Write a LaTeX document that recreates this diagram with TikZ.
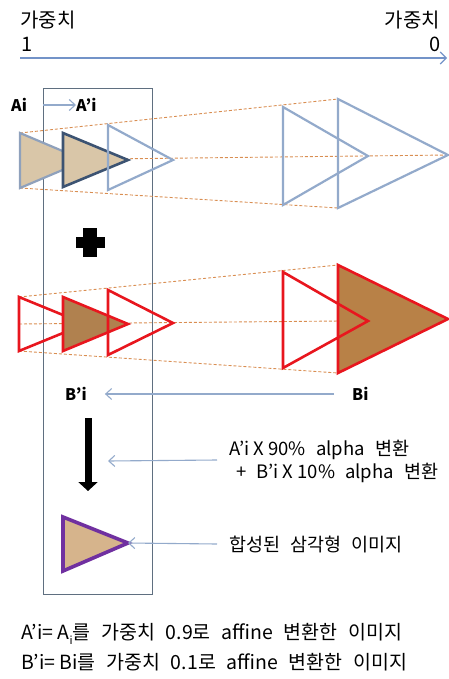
\documentclass[tikz,border=0pt]{standalone}
\usepackage{fontspec}
\setmainfont{Noto Sans CJK KR}
\usetikzlibrary{arrows.meta}
\definecolor{axisblue}{HTML}{7393C8}
\definecolor{lblue}{HTML}{93AACB}
\definecolor{dblue}{HTML}{3C5372}
\definecolor{tred}{HTML}{E8161E}
\definecolor{tpurple}{HTML}{7030A0}
\definecolor{dashor}{HTML}{D98E52}
\definecolor{framec}{HTML}{5F6F80}
\definecolor{woodA}{HTML}{D9C6A8}
\definecolor{woodB}{HTML}{B0814F}
\definecolor{woodC}{HTML}{D6B48C}
\newcommand{\wsp}{\hspace{0.55em}}
\tikzset{
  every node/.style={inner sep=0pt, font=\fontsize{18.5}{21}\selectfont},
  toptxt/.style={font=\fontsize{20}{23}\selectfont},
  lbl/.style={font=\fontsize{16}{19}\selectfont\bfseries},
  guide/.style={dashor, line width=0.9pt, dash pattern=on 3pt off 2pt},
  pointer/.style={lblue, line width=1.1pt, -{Straight Barb[length=6pt,width=11pt]}},
  lbtri/.style={lblue, line width=2.2pt, line join=miter},
  dbtri/.style={dblue, line width=2.6pt, line join=miter, fill=woodA},
  rtri/.style={tred, line width=2.6pt, line join=miter},
  ptri/.style={tpurple, line width=3.6pt, line join=miter, fill=woodC},
}
\begin{document}
\begin{tikzpicture}[x=1pt,y=-1pt]
\useasboundingbox (0,0) rectangle (449,679);
% axis
\node[toptxt, anchor=west] (w1) at (20,20) {가중치};
\node[toptxt, anchor=west] (one) at (21,44) {1};
\node[toptxt, anchor=east] (w0) at (440,20) {가중치};
\node[toptxt, anchor=east] (zero) at (441,44) {0};
\coordinate (axL) at (20,58);
\coordinate (axR) at (447,58);
\draw[axisblue, line width=1.1pt, -{Straight Barb[length=6pt,width=12pt]}] (axL) -- (axR);
% frame
\draw[framec, line width=1pt] (43,89) rectangle (152,594);
% guide lines blue row
\draw[guide] (20,133) -- (338,99);
\draw[guide] (20,160) -- (448,155);
\draw[guide] (20,188) -- (338,208);
% guide lines red row
\draw[guide] (19,297) -- (338,265);
\draw[guide] (19,324) -- (448,320);
\draw[guide] (19,351) -- (338,373);
% blue row triangles
\draw[lbtri, draw=lblue!80!gray, fill=woodA] (20,133) -- (85,160.5) -- (20,188) -- cycle;
\draw[dbtri] (63,133) -- (128,160) -- (63,187) -- cycle;
\draw[lbtri] (108,125) -- (173,160) -- (108,190) -- cycle;
\draw[lbtri] (283,107) -- (368,156) -- (283,205) -- cycle;
\draw[lbtri] (338,99) -- (448,155) -- (338,208) -- cycle;
% plus
\fill (76,237) rectangle (105,248);
\fill (83,228) rectangle (97,257);
% red row triangles
\draw[rtri] (19,297) -- (85,324) -- (19,351) -- cycle;
\draw[rtri, fill=woodB] (63,297) -- (128,324) -- (63,351) -- cycle;
\draw[rtri] (108,290) -- (173,323) -- (108,355) -- cycle;
\draw[rtri, fill=woodB!90!orange] (338,265) -- (448,319) -- (338,373) -- cycle;
\draw[rtri] (283,272) -- (368,321) -- (283,368) -- cycle;
% labels
\node[lbl, anchor=west] (ai) at (11,105) {Ai};
\node[lbl, anchor=west] (api) at (76,105) {A’i};
\coordinate (aiS) at (43,105);
\draw[pointer] (aiS) -- (api.west);
\node[lbl, anchor=west] (bpi) at (65,394) {B’i};
\node[lbl, anchor=west] (bi) at (352,394) {Bi};
\draw[pointer, shorten >=18pt, shorten <=18pt] (bi.west) -- (bpi.east);
% black arrow
\coordinate (ba1) at (88,418);
\coordinate (ba2) at (88,491);
\draw[line width=7pt, -{Triangle[length=9pt,width=19pt]}] (ba1) -- (ba2);
% alpha text
\node[anchor=west] (al1) at (229,450) {A’i X 90\%\wsp alpha\wsp 변환};
\node[anchor=west] (al2) at (236,473) {+\wsp B’i X 10\%\wsp alpha\wsp 변환};
\coordinate (alS) at (217,460);
\coordinate (alE) at (108,461);
\draw[pointer] (alS) -- (alE);
% purple
\draw[ptri] (63,517) -- (128,543) -- (63,571) -- cycle;
\coordinate (ptip) at (128,543);
\node[anchor=west] (comp) at (229,545) {합성된\wsp 삼각형\wsp 이미지};
\draw[pointer] (comp.west) ++(-12,-1) -- (ptip);
% bottom
\node[anchor=west, font=\fontsize{19.5}{22}\selectfont] (n1) at (21,634) {A’i= A\raisebox{-0.4ex}{\fontsize{11}{12}\selectfont i}를\wsp 가중치\wsp 0.9로\wsp affine\wsp 변환한\wsp 이미지};
\node[anchor=west, font=\fontsize{19.5}{22}\selectfont] (n2) at (21,662) {B’i= Bi를\wsp 가중치\wsp 0.1로\wsp affine\wsp 변환한\wsp 이미지};
\end{tikzpicture}
\end{document}
